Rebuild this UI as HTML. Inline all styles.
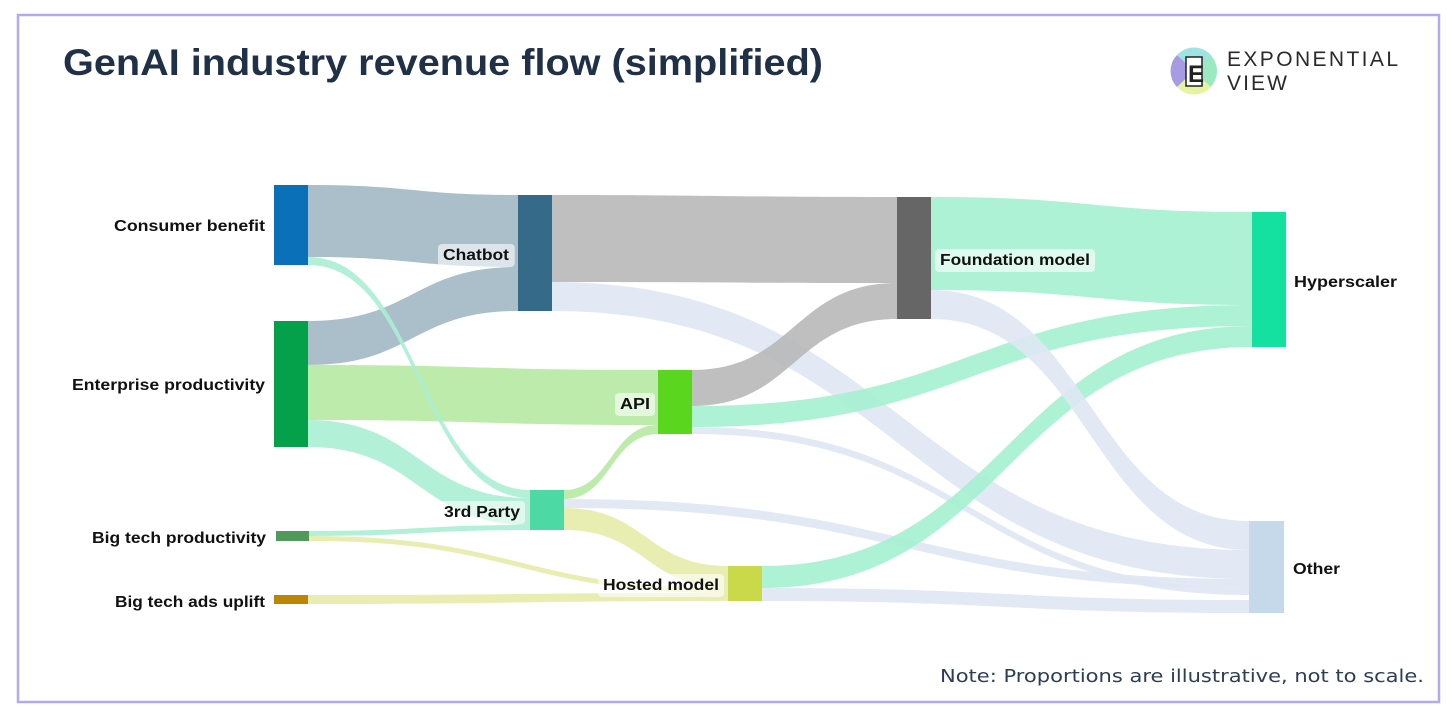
<!DOCTYPE html>
<html><head><meta charset="utf-8"><style>
body{margin:0;background:#fff;width:1456px;height:717px;overflow:hidden;font-family:"Liberation Sans",sans-serif}
</style></head><body>
<svg id="s" width="1456" height="717" xmlns="http://www.w3.org/2000/svg">
<rect x="18" y="15" width="1421" height="687" fill="#fff" stroke="#b4a9ea" stroke-width="2.5"/>
<text x="63" y="75" font-family="Liberation Sans" font-weight="bold" font-size="37" fill="#1f3047" textLength="760" lengthAdjust="spacingAndGlyphs">GenAI industry revenue flow (simplified)</text>
<g id="links"></g><g id="nodes"></g><g id="labels"></g>
<g>
<circle cx="1194" cy="71" r="23" fill="#9ce8c0"/>
<path d="M1194 71 L1177 55 A23 23 0 0 0 1177 87 Z" fill="#a79be3"/>
<path d="M1194 71 L1177 55 A23 23 0 0 1 1211 55 Z" fill="#9fe3e3"/>
<path d="M1194 71 L1211 87 A23 23 0 0 1 1177 87 Z" fill="#e6f4a0"/>
<rect x="1186" y="57" width="16" height="29" fill="#fff" stroke="#222" stroke-width="1.5"/>
<text x="1188" y="82" font-size="24" font-weight="bold" fill="#222">E</text>
<text x="1227" y="66" font-size="21" fill="#2a2a2a" textLength="171">EXPONENTIAL</text>
<text x="1227" y="90" font-size="21" fill="#2a2a2a" textLength="60">VIEW</text>
</g>
<text x="940" y="682" font-family="DejaVu Sans" font-size="18" fill="#2c3e55" textLength="484" lengthAdjust="spacingAndGlyphs">Note: Proportions are illustrative, not to scale.</text>
</svg>
<script>
var L=document.getElementById('links'),N=document.getElementById('nodes'),T=document.getElementById('labels');
var ns='http://www.w3.org/2000/svg';
function link(x0,a0,b0,x1,a1,b1,c){var m=(x0+x1)/2;var p=document.createElementNS(ns,'path');
p.setAttribute('d','M'+x0+' '+a0+'C'+m+' '+a0+' '+m+' '+a1+' '+x1+' '+a1+'L'+x1+' '+b1+'C'+m+' '+b1+' '+m+' '+b0+' '+x0+' '+b0+'Z');
p.setAttribute('fill',c);p.setAttribute('fill-opacity','0.9');L.appendChild(p);}
function node(x,y,w,h,c){var r=document.createElementNS(ns,'rect');r.setAttribute('x',x);r.setAttribute('y',y);r.setAttribute('width',w);r.setAttribute('height',h);r.setAttribute('fill',c);N.appendChild(r);}
function lab(x,y,t,w,bg){var e=document.createElementNS(ns,'text');e.setAttribute('x',x);e.setAttribute('y',y);e.setAttribute('font-size','16');e.setAttribute('font-weight','bold');e.setAttribute('fill','#111');e.setAttribute('textLength',w);e.setAttribute('lengthAdjust','spacingAndGlyphs');e.textContent=t;T.appendChild(e);
if(bg){var b=e.getBBox();var r=document.createElementNS(ns,'rect');r.setAttribute('x',b.x-5);r.setAttribute('y',b.y-3);r.setAttribute('width',b.width+10);r.setAttribute('height',b.height+6);r.setAttribute('rx',4);r.setAttribute('fill','#fff');r.setAttribute('fill-opacity','0.6');T.insertBefore(r,e);}}
var G='#a2b8c4',GR='#b8b8b8',LG='#b6e9a2',MT='#aaeed3',HY='#a5f1d0',OT='#dfe7f4',YL='#e5eca9';
link(308,185,257,518,195,267,G);
link(308,321,365,518,267,311,G);
link(308,365,420,658,370,425,LG);
link(308,257,265,530,490,498,MT);
link(308,420,447,530,498,525,MT);
link(309,531,536,530,525,530,MT);
link(309,536,541,728,588,593,YL);
link(308,595,604,728,593,601,YL);
link(552,195,282,897,197,283,GR);
link(552,282,311,1249,550,579,OT);
link(692,370,406,897,283,319,GR);
link(692,406,427,1252,305,326,HY);
link(692,427,434,1249,588,595,OT);
link(564,490,499,658,425,434,LG);
link(564,499,508,1249,579,588,OT);
link(564,508,530,728,566,588,YL);
link(762,566,588,1252,326,347,HY);
link(762,588,601,1249,600,613,OT);
link(931,197,290,1252,212,305,HY);
link(931,290,319,1249,521,550,OT);
node(274,185,34,80,'#0a71b8');
node(274,321,34,126,'#05a04a');
node(276,531,33,10,'#4f9a5a');
node(274,595,34,9,'#bb8506');
node(518,195,34,116,'#356a88');
node(658,370,34,64,'#5bd61f');
node(530,490,34,40,'#4dd9a3');
node(728,566,34,35,'#cad94a');
node(897,197,34,122,'#666666');
node(1252,212,34,135,'#14e0a0');
node(1249,521,35,92,'#c5d9ea');
lab(114,231,'Consumer benefit',151);
lab(72,390,'Enterprise productivity',193);
lab(92,543,'Big tech productivity',174);
lab(115,607,'Big tech ads uplift',150);
lab(443,260,'Chatbot',66,1);
lab(620,409,'API',30,1);
lab(444,517,'3rd Party',76,1);
lab(603,590,'Hosted model',116,1);
lab(940,265,'Foundation model',150,1);
lab(1294,287,'Hyperscaler',103);
lab(1293,574,'Other',47);
</script>
</body></html>
